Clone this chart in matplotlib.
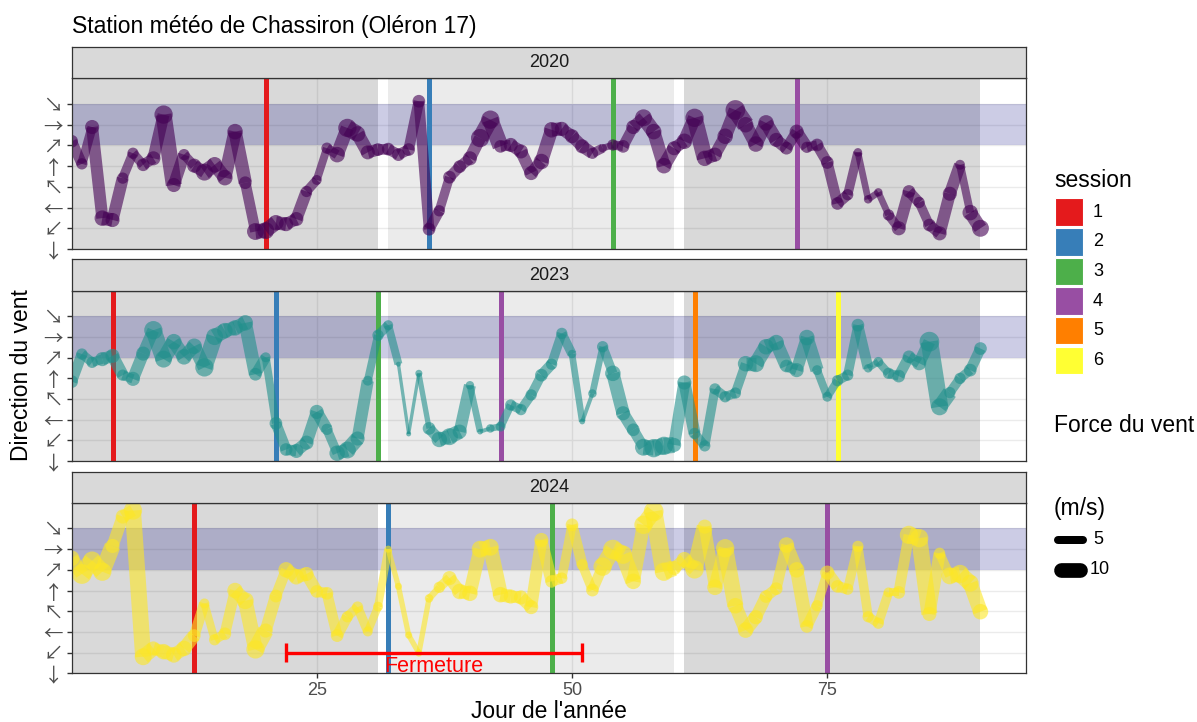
import matplotlib
matplotlib.use("Agg")
import matplotlib.pyplot as plt
from matplotlib.collections import LineCollection
from matplotlib.patches import Rectangle
from matplotlib.lines import Line2D
import numpy as np

plt.rcParams['font.family'] = ['Liberation Sans', 'DejaVu Sans']

# ---------------- data ----------------
days = list(range(1, 91))

dir_2020 = [234, 185, 265, 67, 63, 154, 208, 183, 197, 292,
            139, 205, 181, 167, 183, 155, 255, 144, 38, 40,
            57, 54, 65, 125, 150, 219, 205, 263, 250, 210,
            216, 217, 205, 216, 321, 43, 83, 156, 179, 197,
            241, 281, 223, 226, 212, 165, 190, 259, 261, 245,
            223, 208, 219, 226, 223, 265, 285, 255, 181, 219,
            234, 285, 197, 205, 245, 302, 270, 228, 274, 237,
            219, 255, 221, 226, 188, 99, 118, 210, 108, 123,
            74, 45, 125, 101, 52, 34, 120, 183, 79, 45]
force_2020 = [7, 6, 8, 9, 8, 6, 6, 7, 8, 11,
              8, 6, 8, 10, 9, 9, 9, 7, 10, 10,
              9, 8, 8, 6, 5, 6, 9, 11, 9, 8,
              7, 7, 7, 7, 7, 7, 6, 7, 7, 8,
              11, 11, 7, 8, 8, 8, 9, 9, 8, 8,
              8, 6, 4, 6, 7, 8, 10, 9, 9, 8,
              9, 11, 9, 8, 9, 12, 9, 9, 9, 8,
              7, 8, 6, 7, 7, 7, 6, 4, 4, 4,
              6, 8, 7, 6, 7, 8, 8, 5, 9, 10]

dir_2023 = [173, 233, 215, 222, 229, 187, 179, 234, 285, 222,
            260, 227, 250, 204, 271, 284, 290, 301, 189, 226,
            82, 25, 22, 40, 107, 69, 17, 24, 49, 175,
            274, 296, 211, 59, 191, 71, 47, 53, 64, 165,
            64, 71, 75, 122, 112, 144, 187, 211, 278, 233,
            86, 147, 249, 191, 104, 68, 30, 28, 33, 35,
            171, 60, 33, 157, 140, 148, 212, 212, 249, 258,
            207, 198, 269, 198, 140, 175, 187, 296, 202, 216,
            191, 185, 227, 213, 260, 118, 149, 180, 198, 245]
force_2023 = [7, 6, 6, 8, 8, 6, 8, 8, 11, 10,
              9, 9, 9, 11, 10, 9, 9, 9, 7, 5,
              7, 7, 8, 8, 8, 6, 9, 10, 8, 5,
              6, 5, 1.5, 1.5, 3, 7, 9, 10, 8, 4,
              2, 4, 5, 6, 6, 6, 7, 6, 6, 4,
              2, 4, 6, 9, 8, 7, 10, 11, 11, 8,
              8, 6, 6, 6, 6, 6, 9, 10, 9, 9,
              7, 8, 9, 5, 5, 6, 6, 7, 4, 5,
              6, 7, 7, 8, 12, 10, 6, 6, 7, 7]

dir_2024 = [250, 216, 245, 221, 277, 341, 354, 36, 54, 47,
            40, 54, 82, 152, 73, 86, 180, 158, 52, 93,
            168, 225, 210, 216, 178, 174, 82, 123, 144, 91,
            145, 270, 189, 83, 44, 163, 187, 207, 178, 174,
            270, 274, 171, 167, 165, 144, 290, 200, 207, 323,
            236, 181, 232, 269, 258, 200, 323, 352, 221, 229,
            247, 226, 319, 187, 272, 147, 94, 122, 167, 184,
            279, 225, 102, 147, 219, 189, 183, 276, 123, 109,
            176, 176, 301, 294, 129, 261, 212, 216, 196, 134]
force_2024 = [9, 12, 11, 11, 8, 8, 11, 10, 8, 9,
              9, 9, 7, 5, 6, 7, 9, 10, 11, 8,
              7, 9, 9, 8, 7, 7, 7, 6, 6, 5,
              5, 3, 3, 3, 3, 4, 6, 8, 9, 9,
              10, 10, 9, 8, 8, 8, 8, 7, 6, 7,
              6, 7, 11, 12, 11, 9, 11, 12, 11, 8,
              9, 11, 8, 9, 11, 9, 9, 8, 7, 7,
              9, 9, 7, 6, 8, 7, 6, 6, 6, 6,
              5, 7, 11, 11, 8, 6, 10, 11, 10, 9]

years = ["2020", "2023", "2024"]
year_colors = ["#440154", "#21908C", "#FDE725"]

sessions_2020 = [20, 36, 54, 72]
sessions_2023 = [5, 21, 31, 43, 62, 76]
sessions_2024 = [13, 32, 48, 75]
session_labels = ["1", "2", "3", "4", "5", "6"]
session_colors = ["#E41A1C", "#377EB8", "#4DAF4A", "#984EA3", "#FF7F00", "#FFFF33"]

month_starts = [1, 32, 61]
month_ends = [31, 60, 90]
month_alpha = [0.15, 0.08, 0.15]

band_low, band_high = 225, 315
dir_breaks = [0, 45, 90, 135, 180, 225, 270, 315]
dir_labels = ["↓", "↙", "←", "↖", "↑", "↗", "→", "↘"]
x_breaks = [25, 50, 75]

closure_start, closure_end, closure_y = 22, 51, 45
closure_label = "Fermeture"

legend_forces = [5, 10]

# ---------------- layout ----------------
W, H = 1197, 722
fig = plt.figure(figsize=(W / 100, H / 100), dpi=100)

def fx(px):
    return px / W

def fy(py):
    return 1 - py / H

left_px, right_px = 72, 1026
panels = [(78, 249), (290.5, 461), (502.5, 673.3)]
strips = [(46.5, 78), (259.5, 290.5), (471.7, 502.5)]

def lw_px(f):
    return 1.34 * f + 1.3

def lw_pt(f):
    return lw_px(f) * 0.72

XLIM = (1.03, 94.46)
YLIM = (0, 371.5)

dirs = [dir_2020, dir_2023, dir_2024]
forces = [force_2020, force_2023, force_2024]
sessions = [sessions_2020, sessions_2023, sessions_2024]

for i in range(3):
    top, bot = panels[i]
    ax = fig.add_axes([fx(left_px), fy(bot), fx(right_px - left_px), (bot - top) / H])
    ax.set_xlim(*XLIM)
    ax.set_ylim(*YLIM)
    ax.set_facecolor("white")
    # grid
    for yb in dir_breaks:
        ax.axhline(yb, color="#EBEBEB", lw=1.0, zorder=0.5)
    for xb in x_breaks:
        ax.axvline(xb, color="#EBEBEB", lw=1.0, zorder=0.5)
    # month rects
    for s, e, a in zip(month_starts, month_ends, month_alpha):
        ax.add_patch(Rectangle((s, YLIM[0]), e - s, YLIM[1] - YLIM[0],
                               facecolor="black", alpha=a, lw=0, zorder=1))
    # band
    ax.axhspan(band_low, band_high, facecolor="#000080", alpha=0.2, lw=0, zorder=1.5)
    # sessions
    for k, d in enumerate(sessions[i]):
        ax.axvline(d, color=session_colors[k], lw=3.6, zorder=2)
    # data
    x = np.array(days, dtype=float)
    y = np.array(dirs[i], dtype=float)
    f = np.array(forces[i], dtype=float)
    segs = [[(x[j], y[j]), (x[j + 1], y[j + 1])] for j in range(len(x) - 1)]
    lc = LineCollection(segs, linewidths=[lw_pt(v) for v in f[:-1]],
                        colors=year_colors[i], alpha=0.6, capstyle="butt", zorder=3)
    ax.add_collection(lc)
    sizes = [((1.05 * lw_px(v) + 1.5) * 0.72) ** 2 for v in f]
    ax.scatter(x, y, s=sizes, color=year_colors[i], alpha=0.6, lw=0, zorder=4)

    # axes styling
    for sp in ax.spines.values():
        sp.set_color("#333333")
        sp.set_linewidth(0.9)
        sp.set_zorder(6)
    ax.set_yticks(dir_breaks)
    ax.set_yticklabels(dir_labels, fontsize=14, color="#4D4D4D",
                       family=["Noto Sans CJK JP", "DejaVu Sans"])
    ax.tick_params(axis="y", length=3.6, width=1.0, color="#333333", pad=3)
    ax.set_xticks(x_breaks)
    if i == 2:
        ax.set_xticklabels([str(v) for v in x_breaks], fontsize=13, color="#4D4D4D")
        ax.tick_params(axis="x", length=3.6, width=1.0, color="#333333", pad=3)
    else:
        ax.tick_params(axis="x", length=0, labelbottom=False)

    if i == 2:
        ax.plot([closure_start, closure_end], [closure_y, closure_y], color="#FF0000",
                lw=2.4, zorder=5, solid_capstyle="butt")
        for xe in (closure_start, closure_end):
            ax.plot([xe, xe], [closure_y - 20, closure_y + 20], color="#FF0000",
                    lw=2.4, zorder=5, solid_capstyle="butt")
        ax.text((closure_start + closure_end) / 2, 3, closure_label, color="#FF0000",
                fontsize=15.5, ha="center", va="baseline", zorder=5)

    # strip
    st, sb = strips[i]
    sax = fig.add_axes([fx(left_px), fy(sb), fx(right_px - left_px), (sb - st) / H])
    sax.set_facecolor("#D9D9D9")
    sax.set_xticks([])
    sax.set_yticks([])
    for sp in sax.spines.values():
        sp.set_color("#333333")
        sp.set_linewidth(0.9)
    sax.text(0.5, 0.5, years[i], ha="center", va="center", fontsize=13,
             color="#1A1A1A", transform=sax.transAxes)

# titles
fig.text(fx(72), fy(33), "Station météo de Chassiron (Oléron 17)", fontsize=16.5,
         ha="left", va="baseline", color="black")
fig.text(fx((left_px + right_px) / 2), fy(718), "Jour de l'année", fontsize=16.5,
         ha="center", va="baseline", color="black")
fig.text(fx(22), fy(375.5), "Direction du vent", fontsize=16.5, rotation=90,
         ha="center", va="center", color="black")

# legend: session
fig.text(fx(1054), fy(187), "session", fontsize=16.5, ha="left", va="baseline")
for k, (lab, col) in enumerate(zip(session_labels, session_colors)):
    ytop = 198.5 + k * 29.6
    fig.add_artist(Rectangle((fx(1055), fy(ytop + 27.5)), fx(28), 27.5 / H,
                             transform=fig.transFigure, facecolor=col,
                             edgecolor="white", lw=0.8))
    fig.text(fx(1093), fy(ytop + 13.8), lab, fontsize=13, ha="left", va="center")

# legend: force
fig.text(fx(1054), fy(432), "Force du vent", fontsize=16.5, ha="left", va="baseline")
fig.text(fx(1054), fy(515), "(m/s)", fontsize=16.5, ha="left", va="baseline")
for k, fv in enumerate(legend_forces):
    yc = 540 + k * 30
    r = lw_px(fv) / 2
    fig.add_artist(Line2D([fx(1054 + r), fx(1085 - r + 2)], [fy(yc), fy(yc)],
                          transform=fig.transFigure, color="black",
                          lw=lw_pt(fv), solid_capstyle="round"))
    fig.text(fx(1090 if fv >= 10 else 1093), fy(yc), str(fv), fontsize=13,
             ha="left", va="center")

fig.savefig("out.png", dpi=100)
